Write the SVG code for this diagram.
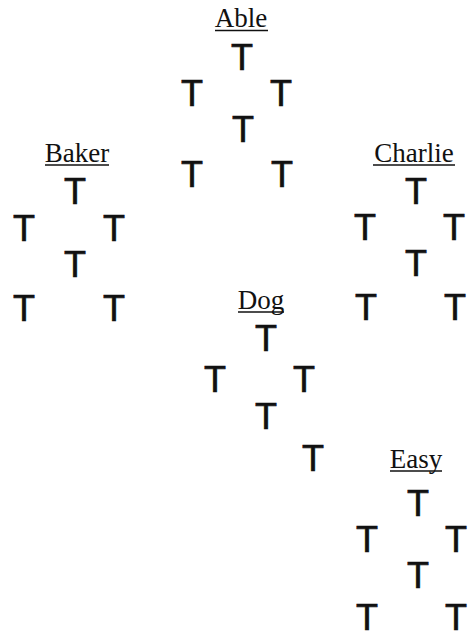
<svg xmlns="http://www.w3.org/2000/svg" width="475" height="631" viewBox="0 0 475 631">
<style>
.lbl{font-family:"Liberation Serif","Times New Roman",serif;font-size:27px;fill:#111;text-anchor:middle}
.t{font-family:"Liberation Sans",Arial,sans-serif;font-size:36px;fill:#111;stroke:#111;stroke-width:0.7;text-anchor:middle}
.ul{stroke:#111;stroke-width:1.5}
</style>
<rect width="475" height="631" fill="#fff"/>
<g id="able">
<text class="lbl" x="241" y="27">Able</text>
<line class="ul" x1="215" y1="30.5" x2="268" y2="30.5"/>
<text class="t" x="242" y="70">T</text>
<text class="t" x="192" y="106">T</text>
<text class="t" x="281" y="106">T</text>
<text class="t" x="243" y="142">T</text>
<text class="t" x="192" y="187">T</text>
<text class="t" x="282" y="187">T</text>
</g>
<g id="baker">
<text class="lbl" x="77" y="162">Baker</text>
<line class="ul" x1="45" y1="165" x2="109" y2="165"/>
<text class="t" x="75" y="204">T</text>
<text class="t" x="24" y="241">T</text>
<text class="t" x="114" y="241">T</text>
<text class="t" x="75" y="277">T</text>
<text class="t" x="24" y="321">T</text>
<text class="t" x="114" y="321">T</text>
</g>
<g id="charlie">
<text class="lbl" x="414" y="162">Charlie</text>
<line class="ul" x1="373" y1="165" x2="455" y2="165"/>
<text class="t" x="416" y="204">T</text>
<text class="t" x="365" y="240">T</text>
<text class="t" x="454" y="240">T</text>
<text class="t" x="416" y="276">T</text>
<text class="t" x="366" y="320">T</text>
<text class="t" x="455" y="320">T</text>
</g>
<g id="dog">
<text class="lbl" x="261" y="309">Dog</text>
<line class="ul" x1="238" y1="312" x2="284" y2="312"/>
<text class="t" x="266" y="351">T</text>
<text class="t" x="215" y="392">T</text>
<text class="t" x="304" y="392">T</text>
<text class="t" x="266" y="429">T</text>
<text class="t" x="313" y="471">T</text>
</g>
<g id="easy">
<text class="lbl" x="416" y="468">Easy</text>
<line class="ul" x1="390" y1="471" x2="442" y2="471"/>
<text class="t" x="418" y="516">T</text>
<text class="t" x="367" y="552">T</text>
<text class="t" x="456" y="552">T</text>
<text class="t" x="418" y="588">T</text>
<text class="t" x="367" y="630">T</text>
<text class="t" x="456" y="630">T</text>
</g>
<g id="connectors"></g>
</svg>
